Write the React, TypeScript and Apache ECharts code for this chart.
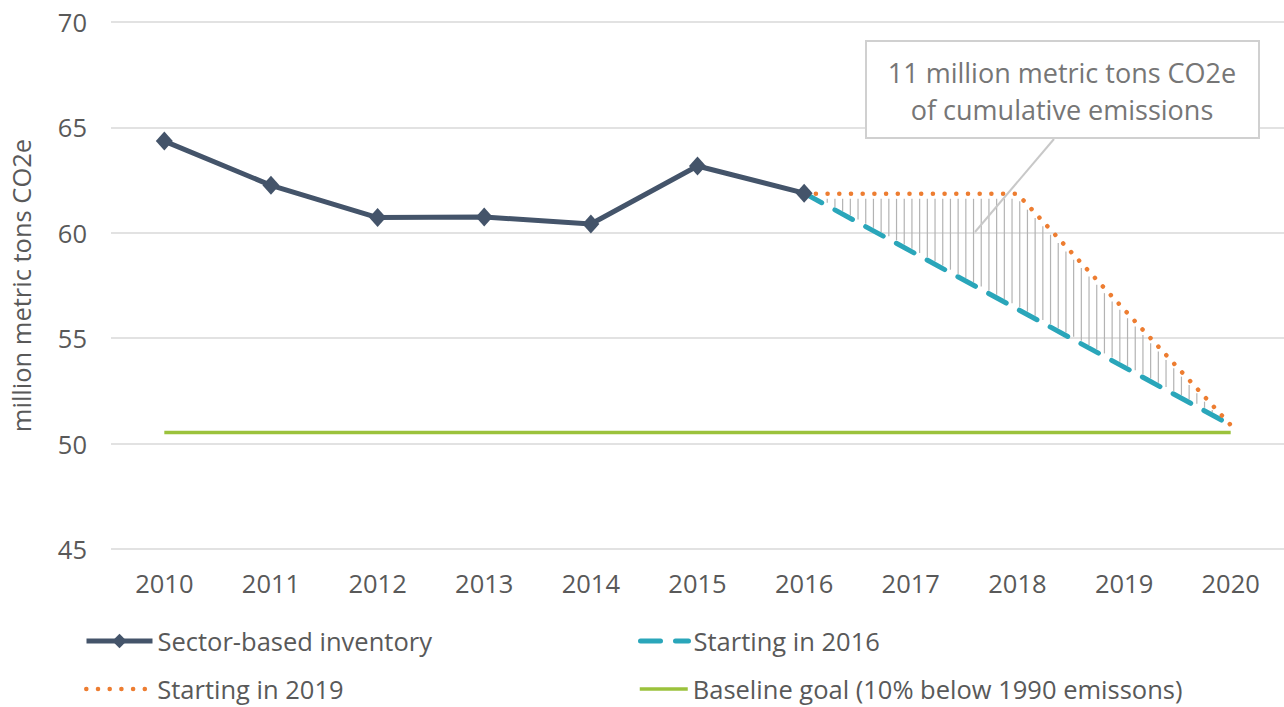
import React, { useEffect, useRef } from "react";
import * as echarts from "echarts";

const years = ["2010", "2011", "2012", "2013", "2014", "2015", "2016", "2017", "2018", "2019", "2020"];
const sectorInventory = [64.35, 62.25, 60.72, 60.75, 60.42, 63.17, 61.88, null, null, null, null];
const starting2016 = [null, null, null, null, null, null, 61.88, null, null, null, 50.88];
const starting2019 = [null, null, null, null, null, null, 61.85, 61.85, 61.85, null, 50.88];
const baselineGoal = [50.53, 50.53, 50.53, 50.53, 50.53, 50.53, 50.53, 50.53, 50.53, 50.53, 50.53];
const yTicks = { min: 45, max: 70, interval: 5 };
const annotationLines = ["11 million metric tons CO2e", "of cumulative emissions"];

const FONT = "'Open Sans', 'Noto Sans', sans-serif";
const TXT = "#595959";
const FS = 25.5;

function interp(pts: number[][], x: number): number {
  for (let i = 0; i < pts.length - 1; i++) {
    const a = pts[i], b = pts[i + 1];
    if (x >= a[0] && x <= b[0]) {
      const t = (x - a[0]) / (b[0] - a[0] || 1);
      return a[1] + t * (b[1] - a[1]);
    }
  }
  return pts[pts.length - 1][1];
}

export default function App() {
  const ref = useRef<HTMLDivElement>(null);
  useEffect(() => {
    document.body.style.margin = "0";
    const chart = echarts.init(ref.current!, null, { renderer: "svg" });
    const legendText = { color: TXT, fontSize: FS, fontFamily: FONT };
    const hideSym = { opacity: 0 };
    chart.setOption({
      animation: false,
      backgroundColor: "#ffffff",
      grid: { left: 101, right: -3, top: 22, bottom: 158, containLabel: false },
      xAxis: {
        type: "category",
        data: years,
        boundaryGap: true,
        axisLine: { show: false },
        axisTick: { show: false },
        axisLabel: { color: TXT, fontSize: FS, fontFamily: FONT, margin: 21 },
      },
      yAxis: {
        type: "value",
        min: yTicks.min,
        max: yTicks.max,
        interval: yTicks.interval,
        name: "million metric tons CO2e",
        nameLocation: "middle",
        nameGap: 77,
        nameTextStyle: { color: TXT, fontSize: FS, fontFamily: FONT },
        axisLine: { show: false },
        axisTick: { show: false },
        axisLabel: { color: TXT, fontSize: FS, fontFamily: FONT, margin: 24 },
        splitLine: { lineStyle: { color: "#d9d9d9", width: 1.5 } },
      },
      legend: [
        { data: ["Sector-based inventory"], left: 84, top: 628, padding: 0, itemWidth: 66, itemHeight: 18, lineStyle: { width: 5 }, textStyle: legendText },
        { data: ["Starting in 2016"], left: 638, top: 628, padding: 0, itemWidth: 48, itemHeight: 18, lineStyle: { width: 5 }, itemStyle: hideSym, textStyle: legendText },
        { data: ["Starting in 2019"], left: 84, top: 676, padding: 0, itemWidth: 66, itemHeight: 18, lineStyle: { width: 4.5 }, itemStyle: hideSym, textStyle: legendText },
        { data: ["Baseline goal (10% below 1990 emissons)"], left: 638, top: 676, padding: 0, itemWidth: 48, itemHeight: 18, lineStyle: { width: 3.5 }, itemStyle: hideSym, textStyle: legendText },
      ],
      series: [
        {
          name: "hatch",
          type: "custom",
          silent: true,
          z: 1,
          data: [[6, starting2016[6]]],
          renderItem: (params: any, api: any) => {
            const upper: number[][] = [];
            const lower: number[][] = [];
            starting2019.forEach((v, i) => { if (v != null) upper.push(api.coord([i, v])); });
            starting2016.forEach((v, i) => { if (v != null) lower.push(api.coord([i, v])); });
            const x0 = lower[0][0];
            const x1 = lower[lower.length - 1][0];
            const children: any[] = [];
            for (let x = x0 + 7.7; x < x1 - 2; x += 7.7) {
              const yt = interp(upper, x) + 5;
              const yb = interp(lower, x) - 3;
              if (yb - yt > 1) {
                children.push({
                  type: "line",
                  shape: { x1: x, y1: yt, x2: x, y2: yb },
                  style: { stroke: "#b3b3b3", lineWidth: 1.2 },
                });
              }
            }
            return { type: "group", children };
          },
        },
        {
          name: "Baseline goal (10% below 1990 emissons)",
          type: "line",
          data: baselineGoal,
          symbol: "none",
          z: 2,
          lineStyle: { color: "#9bc23c", width: 3.5 },
          itemStyle: { color: "#9bc23c" },
        },
        {
          name: "Starting in 2016",
          type: "line",
          data: starting2016,
          connectNulls: true,
          symbol: "none",
          z: 3,
          lineStyle: { color: "#2aa6ba", width: 5, type: [20, 15], cap: "round" },
          itemStyle: { color: "#2aa6ba" },
        },
        {
          name: "Starting in 2019",
          type: "line",
          data: starting2019,
          connectNulls: true,
          symbol: "none",
          z: 4,
          lineStyle: { color: "#ed7d31", width: 4.5, type: [0.1, 11.6], cap: "round" },
          itemStyle: { color: "#ed7d31" },
        },
        {
          name: "Sector-based inventory",
          type: "line",
          data: sectorInventory,
          symbol: "diamond",
          symbolSize: [17, 19],
          z: 5,
          lineStyle: { color: "#44546a", width: 5 },
          itemStyle: { color: "#44546a" },
        },
      ],
      graphic: [
        {
          type: "line",
          z: 10,
          shape: { x1: 1054, y1: 139, x2: 975, y2: 232 },
          style: { stroke: "#c8c8c8", lineWidth: 2 },
        },
        {
          type: "rect",
          z: 11,
          shape: { x: 866, y: 41, width: 393, height: 97 },
          style: { fill: "#ffffff", stroke: "#d0d0d0", lineWidth: 2 },
        },
        {
          type: "text",
          z: 12,
          x: 1062,
          y: 72,
          style: { text: annotationLines[0], fill: "#767676", fontSize: 27, fontFamily: FONT, align: "center", verticalAlign: "middle", lineHeight: 32 },
        },
        {
          type: "text",
          z: 12,
          x: 1062,
          y: 109,
          style: { text: annotationLines[1], fill: "#767676", fontSize: 27, fontFamily: FONT, align: "center", verticalAlign: "middle", lineHeight: 32 },
        },
      ],
    });
    return () => chart.dispose();
  }, []);
  return <div ref={ref} style={{ width: 1284, height: 707 }} />;
}
